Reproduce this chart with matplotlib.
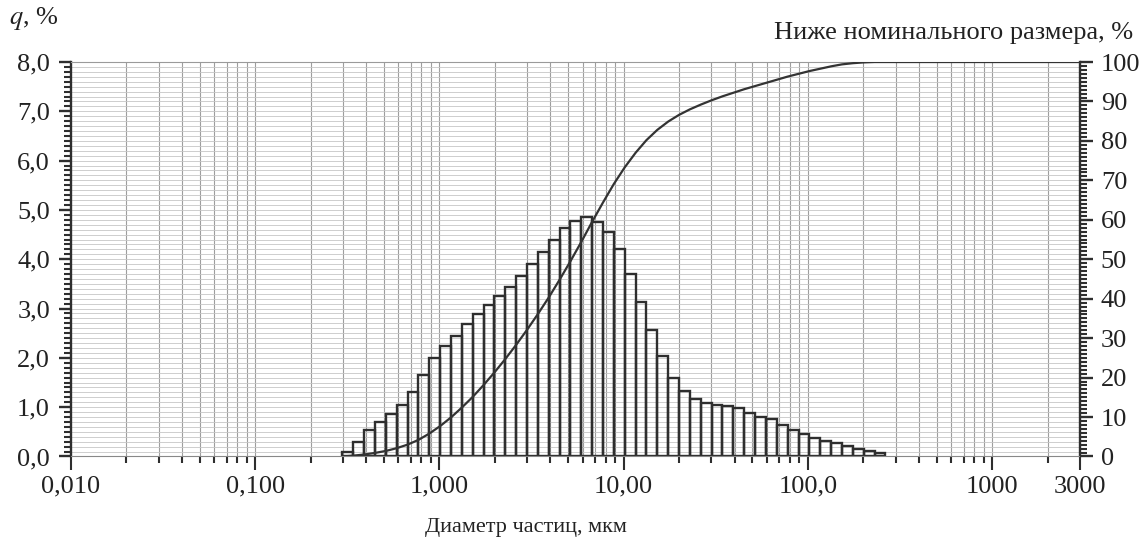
import matplotlib
matplotlib.use("Agg")
import matplotlib.pyplot as plt
import numpy as np
from matplotlib.ticker import FixedLocator, FuncFormatter, MultipleLocator, NullFormatter

plt.rcParams["font.family"] = ["Liberation Serif", "DejaVu Serif"]
plt.rcParams["mathtext.fontset"] = "stix"

# size class edges of the analyser, um
edges_um = [
    0.2976, 0.3409, 0.3905, 0.4472, 0.5122, 0.5867, 0.6720, 0.7697, 0.8816, 1.0097,
    1.1565, 1.3246, 1.5172, 1.7377, 1.9904, 2.2797, 2.6111, 2.9907, 3.4255, 3.9234,
    4.4938, 5.1471, 5.8953, 6.7523, 7.7339, 8.8583, 10.146, 11.621, 13.310, 15.245,
    17.462, 20.000, 22.908, 26.238, 30.052, 34.421, 39.424, 45.156, 51.720, 59.239,
    67.850, 77.714, 89.012, 101.95, 116.77, 133.75, 153.19, 175.46, 200.97, 230.18,
    263.65,
]

# q, % per size class
q_percent = [
    0.10, 0.30, 0.54, 0.70, 0.86, 1.05, 1.31, 1.66, 2.00, 2.25,
    2.45, 2.69, 2.89, 3.08, 3.26, 3.43, 3.66, 3.90, 4.15, 4.40,
    4.63, 4.78, 4.86, 4.76, 4.55, 4.20, 3.71, 3.14, 2.57, 2.03,
    1.59, 1.32, 1.17, 1.08, 1.05, 1.03, 0.98, 0.89, 0.81, 0.75,
    0.64, 0.54, 0.45, 0.37, 0.32, 0.28, 0.22, 0.16, 0.11, 0.08,
]

# cumulative "below size", % (read at the class edges, then to 3000 um)
cum_size_um = edges_um + [3000.0]
cum_percent = [
    0.0, 0.2, 0.5, 0.9, 1.4, 2.1, 3.0, 4.2, 5.8, 7.7,
    9.9, 12.4, 15.1, 18.1, 21.3, 24.7, 28.3, 32.1, 36.1, 40.3,
    44.8, 49.5, 54.4, 59.5, 64.4, 69.1, 73.3, 77.0, 80.2, 82.8,
    84.9, 86.6, 88.0, 89.2, 90.3, 91.3, 92.2, 93.1, 93.9, 94.7,
    95.5, 96.3, 97.0, 97.7, 98.3, 98.9, 99.4, 99.7, 99.9, 100.0,
    100.0, 100.0,
]

x_ticks = [0.01, 0.1, 1, 10, 100, 1000, 3000]
x_tick_labels = ["0,010", "0,100", "1,000", "10,00", "100,0", "1000", "3000"]

INK = "#2e2e2e"
TEXT = "#222222"
FS = 19

fig = plt.figure(figsize=(11.45, 5.42), dpi=100)
ax = fig.add_axes([0.0619, 0.1578, 0.8813, 0.7278])
ax.set_xscale("log")
ax.set_xlim(0.01, 3000)
ax.set_ylim(0, 8)

# graph-paper grid
minor_x = [m * 10.0 ** d for d in range(-2, 4) for m in range(1, 10)]
for xv in minor_x:
    if 0.01 < xv < 3000:
        ax.axvline(xv, color="#9e9e9e", lw=0.8, zorder=0)
for yv in np.arange(0.1, 8.0, 0.1):
    ax.axhline(yv, color="#c6c6c6", lw=0.6, zorder=0)

ax.bar(
    edges_um[:-1],
    q_percent,
    width=np.diff(edges_um),
    align="edge",
    facecolor="none",
    edgecolor=INK,
    linewidth=1.7,
    zorder=2,
)

ax.xaxis.set_major_locator(FixedLocator(x_ticks))
ax.set_xticklabels(x_tick_labels)
ax.xaxis.set_minor_locator(FixedLocator([v for v in minor_x if 0.01 < v < 3000 and v not in x_ticks]))
ax.xaxis.set_minor_formatter(NullFormatter())
ax.yaxis.set_major_locator(MultipleLocator(1.0))
ax.yaxis.set_minor_locator(MultipleLocator(0.1))
ax.yaxis.set_major_formatter(FuncFormatter(lambda v, p: f"{v:.1f}".replace(".", ",")))

ax.tick_params(axis="x", which="major", direction="out", length=10, width=1.5, pad=4,
               labelsize=FS, color=INK, labelcolor=TEXT)
ax.tick_params(axis="x", which="minor", direction="out", length=5, width=1.5, color=INK)
ax.tick_params(axis="y", which="major", direction="out", length=9, width=1.7, pad=6,
               labelsize=FS, color=INK, labelcolor=TEXT)
ax.tick_params(axis="y", which="minor", direction="out", length=5, width=1.5, color=INK)

for side in ("left", "right"):
    ax.spines[side].set_color(INK)
    ax.spines[side].set_linewidth(1.7)
ax.spines["top"].set_color("#9a9a9a")
ax.spines["bottom"].set_color("#888888")

ax2 = ax.twinx()
ax2.set_ylim(0, 100)
ax2.plot(cum_size_um, cum_percent, color="#333333", lw=1.6, zorder=3)
ax2.yaxis.set_major_locator(MultipleLocator(10))
ax2.yaxis.set_minor_locator(MultipleLocator(1))
ax2.tick_params(axis="y", which="major", direction="out", length=9, width=1.7, pad=6,
                labelsize=FS, color=INK, labelcolor=TEXT)
ax2.tick_params(axis="y", which="minor", direction="out", length=5, width=1.5, color=INK)
for spine in ax2.spines.values():
    spine.set_visible(False)

fig.text(0.008, 0.966, r"$\mathit{q}$, %", fontsize=FS, color=TEXT, va="center", ha="left")
fig.text(0.990, 0.939, "Ниже номинального размера, %", fontsize=FS, color=TEXT,
         va="center", ha="right")
fig.text(0.459, 0.027, "Диаметр частиц, мкм", fontsize=16, color=TEXT,
         va="center", ha="center")

fig.savefig("out.png", dpi=100)
